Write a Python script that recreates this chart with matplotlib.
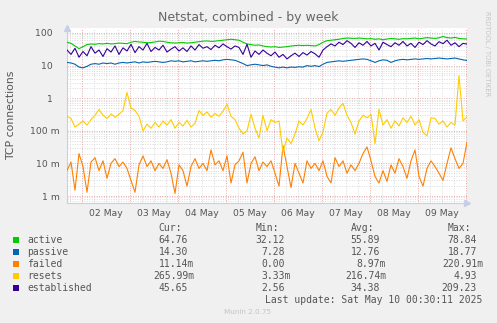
import numpy as np
import pandas as pd
import matplotlib

matplotlib.use("Agg")
import matplotlib.pyplot as plt
import matplotlib.patches as patches

# data, one point every 2 hours from 01 May 16:30 to 10 May 00:30
times = pd.date_range("2025-05-01 16:30", periods=101, freq="2h")

active = [
    52, 48, 40, 33, 38, 44, 46, 45, 47, 46, 48, 46, 47, 49, 48, 47, 52, 55, 53, 52,
    50, 51, 53, 56, 55, 52, 50, 49, 50, 51, 49, 50, 52, 54, 56, 57, 55, 56, 58, 60,
    62, 64, 62, 60, 52, 46, 44, 42, 43, 40, 38, 37, 38, 36, 37, 38, 40, 41, 42, 41,
    42, 41, 40, 44, 52, 58, 60, 62, 64, 68, 70, 69, 68, 70, 68, 66, 67, 64, 66, 62,
    65, 68, 66, 64, 67, 66, 68, 70, 66, 69, 72, 70, 68, 71, 78, 72, 70, 73, 68, 66,
    65,
]
passive = [
    12.5, 12, 11, 9, 8.5, 9.5, 11, 11.5, 11, 12, 11.5, 12, 11, 12, 12.5, 12, 12.5, 13, 12, 13,
    12.5, 13, 13.5, 13, 12.5, 13, 14, 13.5, 14, 13, 13.5, 14, 13, 13.5, 14, 13.5, 14, 14.5, 14, 15,
    15.5, 15, 14.5, 13, 11.5, 10, 10.5, 11, 10.5, 10, 10.5, 9.5, 9, 8.5, 9, 8.5, 9, 8.8, 9.2, 9,
    10, 9.5, 10, 9.3, 11, 12.5, 13, 13.5, 14, 13.5, 14, 14.5, 15, 15.5, 16, 15.5, 14, 12.5, 14, 15,
    14.5, 12.5, 14, 15, 15.5, 15, 15.5, 16, 15.5, 16, 16.5, 16, 16.5, 17, 16.5, 16, 16.5, 17, 16, 15,
    14.3,
]
failed = [
    0.006, 0.011, 0.0015, 0.02, 0.008, 0.0013, 0.011, 0.015, 0.006, 0.012,
    0.0035, 0.01, 0.014, 0.008, 0.011, 0.007, 0.003, 0.0013, 0.009, 0.017,
    0.008, 0.012, 0.006, 0.01, 0.007, 0.013, 0.005, 0.0012, 0.009, 0.006,
    0.002, 0.008, 0.014, 0.007, 0.01, 0.006, 0.026, 0.009, 0.012, 0.006,
    0.017, 0.0025, 0.009, 0.012, 0.022, 0.0025, 0.01, 0.016, 0.006, 0.011,
    0.008, 0.012, 0.005, 0.002, 0.035, 0.008, 0.0018, 0.01, 0.005, 0.0025,
    0.012, 0.007, 0.01, 0.006, 0.012, 0.004, 0.0025, 0.015, 0.008, 0.012,
    0.005, 0.009, 0.006, 0.01, 0.02, 0.032, 0.012, 0.004, 0.0025, 0.006,
    0.0028, 0.009, 0.005, 0.014, 0.008, 0.0035, 0.012, 0.026, 0.004, 0.002,
    0.007, 0.012, 0.008, 0.005, 0.003, 0.01, 0.03, 0.014, 0.007, 0.01,
    0.045,
]
resets = [
    0.28, 0.24, 0.13, 0.16, 0.2, 0.15, 0.22, 0.3, 0.45, 0.3,
    0.24, 0.33, 0.26, 0.32, 0.42, 1.5, 0.5, 0.42, 0.28, 0.1,
    0.16, 0.12, 0.18, 0.13, 0.2, 0.15, 0.22, 0.12, 0.18, 0.14,
    0.21, 0.13, 0.17, 0.42, 0.3, 0.38, 0.26, 0.34, 0.28, 0.4,
    0.65, 0.28, 0.22, 0.12, 0.08, 0.1, 0.32, 0.12, 0.06, 0.3,
    0.1, 0.22, 0.18, 0.2, 0.022, 0.06, 0.04, 0.08, 0.2, 0.15,
    0.24, 0.45, 0.12, 0.05, 0.09, 0.35, 0.45, 0.3, 0.5, 0.7,
    0.3, 0.18, 0.08, 0.2, 0.3, 0.25, 0.32, 0.04, 0.46, 0.15,
    0.22, 0.12, 0.2, 0.14, 0.25, 0.18, 0.28, 0.15, 0.22, 0.09,
    0.07, 0.25, 0.24, 0.16, 0.2, 0.13, 0.18, 0.15, 4.9, 0.2,
    0.27,
]
established = [
    30, 22, 34, 18, 27, 20, 38, 24, 30, 19, 33, 26, 40, 22, 35, 28, 45, 25, 38, 30,
    48, 27, 36, 30, 42, 26, 32, 38, 28, 35, 27, 40, 30, 44, 34, 38, 31, 42, 35, 46,
    38, 32, 40, 36, 22, 45, 18, 28, 22, 30, 24, 20, 26, 18, 22, 16, 20, 24, 19, 25,
    21, 27, 23, 18, 30, 38, 46, 40, 52, 44, 58, 48, 36, 50, 42, 55, 40, 48, 30, 52,
    44, 38, 50, 42, 55, 40, 48, 36, 52, 44, 58, 46, 40, 54, 47, 60, 42, 50, 38, 48,
    45.65,
]

names = ["active", "passive", "failed", "resets", "established"]
colors = ["#00CC00", "#0066B3", "#FF8000", "#FFCC00", "#330099"]
cur = ["64.76", "14.30", "11.14m", "265.99m", "45.65"]
mins = ["32.12", "7.28", "0.00", "3.33m", "2.56"]
avgs = ["55.89", "12.76", "8.97m", "216.74m", "34.38"]
maxs = ["78.84", "18.77", "220.91m", "4.93", "209.23"]

y_ticks = [1e-3, 1e-2, 1e-1, 1, 10, 100]
y_labels = ["1 m", "10 m", "100 m", "1", "10", "100"]

W, H = 497, 323
TXT = "#555555"


def fx(x):
    return x / W


def fy(y):
    return 1 - y / H


fig = plt.figure(figsize=(W / 100, H / 100), dpi=100, facecolor="#F0F0F0")
ax = fig.add_axes([fx(67), fy(203), 400 / W, 175 / H])
ax.set_facecolor("white")

for series, c in zip([active, passive, failed, resets, established], colors):
    ax.plot(times, series, color=c, lw=0.8, zorder=3)

ax.set_yscale("log")
ax.set_ylim(6.1e-4, 142)
ax.set_xlim(times[0], times[-1])

# grid: gray every 6 hours / sub-decade, red at midnight / decade
for t in pd.date_range("2025-05-01 18:00", "2025-05-10 00:30", freq="6h"):
    major = t.hour == 0
    ax.axvline(t, color="#E3A8A8" if major else "#DADADA", lw=0.7,
               ls=(0, (1, 1.5)), zorder=1)
ax.set_yticks(y_ticks)
ax.set_yticklabels(y_labels)
ax.set_yticks([m * 10.0 ** e for e in range(-4, 3) for m in range(2, 10)
               if 6.1e-4 < m * 10.0 ** e < 142], minor=True)
ax.yaxis.grid(True, which="minor", color="#DADADA", lw=0.7, ls=(0, (1, 1.5)), zorder=1)
ax.yaxis.grid(True, which="major", color="#E3A8A8", lw=0.7, ls=(0, (1, 1.5)), zorder=1)
ax.tick_params(axis="y", which="minor", length=0, labelleft=False)
ax.tick_params(axis="y", which="major", length=0, labelsize=6.7, labelcolor=TXT)
for tick, lab in zip(ax.yaxis.get_major_ticks(), y_labels):
    tick.set_pad(5 if lab.endswith("m") else 10)
ax.set_axisbelow(True)

noons = pd.date_range("2025-05-02 12:00", periods=8, freq="D")
ax.set_xticks(noons)
ax.set_xticklabels([d.strftime("%d %b") for d in noons])
ax.tick_params(axis="x", length=0, pad=4.5, labelsize=6.7, labelcolor=TXT)
ax.xaxis.grid(False)

for s in ["top", "right"]:
    ax.spines[s].set_visible(False)
for s in ["left", "bottom"]:
    ax.spines[s].set_color("#C8CEEA")
    ax.spines[s].set_linewidth(0.8)
ax.plot([0], [1.0], marker="^", ms=5, color="#C8CEEA", transform=ax.transAxes,
        clip_on=False, zorder=5)
ax.plot([1.0], [0], marker=">", ms=5, color="#C8CEEA", transform=ax.transAxes,
        clip_on=False, zorder=5)

fig.text(fx(248), fy(17), "Netstat, combined - by week", ha="center", va="center",
         fontsize=9, color="#666666")
fig.text(fx(11), fy(115), "TCP connections", rotation=90, ha="center", va="center",
         fontsize=7.8, color=TXT)
fig.text(fx(487), fy(54), "RRDTOOL / TOBI OETIKER", rotation=270, ha="center",
         va="center", fontsize=4.8, color="#C4C4C4")
fig.text(fx(248), fy(312), "Munin 2.0.75", ha="center", va="center",
         fontsize=5.2, color="#C4C4C4")

# legend table
mono = dict(family="DejaVu Sans Mono", fontsize=7, color=TXT, va="center")
for head, xr in zip(["Cur:", "Min:", "Avg:", "Max:"], [182, 279, 374, 471]):
    fig.text(fx(xr), fy(228), head, ha="right", **mono)
for i, (n, c) in enumerate(zip(names, colors)):
    yy = 240 + 12 * i
    fig.patches.append(patches.Rectangle((fx(13), fy(yy + 3)), 6 / W, 6 / H,
                                         transform=fig.transFigure, facecolor=c,
                                         edgecolor="none"))
    fig.text(fx(27), fy(yy), n, ha="left", **mono)
    for vals, xr in zip([cur, mins, avgs, maxs], [188, 285, 380, 477]):
        v = vals[i]
        fig.text(fx(xr + (6 if v.endswith("m") else 0)), fy(yy), v, ha="right", **mono)
fig.text(fx(482), fy(300), "Last update: Sat May 10 00:30:11 2025", ha="right", **mono)

fig.savefig("out.png", dpi=100, facecolor=fig.get_facecolor())
